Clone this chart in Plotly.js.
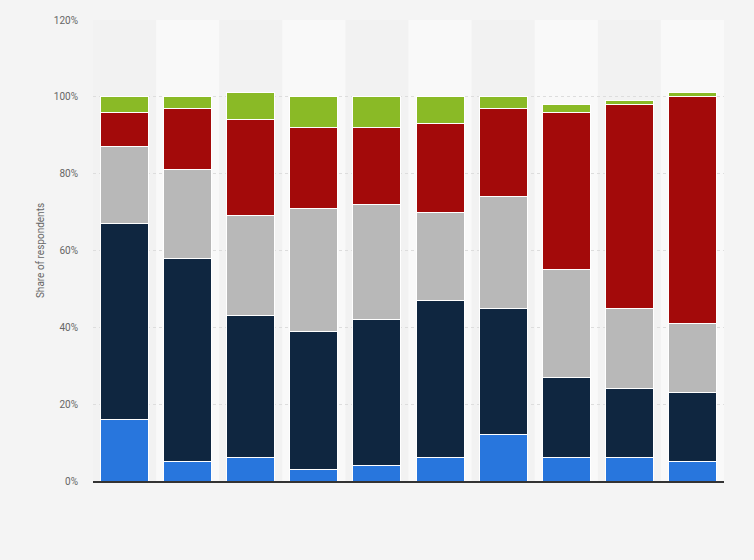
<!DOCTYPE html>
<html>
<head>
<meta charset="utf-8">
<script src="https://cdn.plot.ly/plotly-3.0.1.min.js"></script>
<style>html,body{margin:0;padding:0;background:#f4f4f4;}#chart{width:754px;height:560px;}</style>
</head>
<body>
<div id="chart"></div>
<script>
var categories = ['1','2','3','4','5','6','7','8','9','10'];
var seriesNames = ['Series 1','Series 2','Series 3','Series 4','Series 5'];
var series1 = [16, 5, 6, 3, 4, 6, 12, 6, 6, 5];
var series2 = [51, 53, 37, 36, 38, 41, 33, 21, 18, 18];
var series3 = [20, 23, 26, 32, 30, 23, 29, 28, 21, 18];
var series4 = [9, 16, 25, 21, 20, 23, 23, 41, 53, 59];
var series5 = [4, 3, 7, 8, 8, 7, 3, 2, 1, 1];
var colors = ['#2876dd', '#0f2640', '#b8b8b8', '#a30a0a', '#8aba26'];
var yTicks = [0, 20, 40, 60, 80, 100, 120];
var yTickLabels = ['0%', '20%', '40%', '60%', '80%', '100%', '120%'];

var allSeries = [series1, series2, series3, series4, series5];
var traces = allSeries.map(function(vals, i){
  return {
    type: 'bar',
    name: seriesNames[i],
    x: categories,
    y: vals,
    marker: {color: colors[i], line: {color: '#ffffff', width: 1}},
    hoverinfo: 'y+name'
  };
});

var shapes = [];
categories.forEach(function(c, i){
  if (i % 2 === 1) {
    shapes.push({type:'rect', xref:'x', yref:'paper', x0:i-0.5, x1:i+0.5, y0:0, y1:1,
      fillcolor:'#f9f9f9', line:{width:0}, layer:'below'});
  }
});

var layout = {
  width: 754, height: 560,
  paper_bgcolor: '#f4f4f4',
  plot_bgcolor: '#f2f2f2',
  barmode: 'stack',
  bargap: 0.24,
  showlegend: false,
  margin: {l: 93, r: 30, t: 20, b: 79},
  font: {family: 'Roboto, Arial, sans-serif', color: '#666666'},
  xaxis: {
    type: 'category',
    showticklabels: false,
    showgrid: false,
    zeroline: false,
    showline: true,
    linecolor: '#333333',
    linewidth: 1.5,
    ticks: ''
  },
  yaxis: {
    range: [0, 120],
    tickmode: 'array',
    tickvals: yTicks,
    ticktext: yTickLabels,
    showgrid: true,
    gridcolor: '#dddddd',
    griddash: 'dot',
    gridwidth: 1,
    zeroline: false,
    tickfont: {size: 10, color: '#666666'},
    ticklen: 0,
    ticklabelstandoff: 14,
    title: {text: 'Share of respondents', font: {size: 10, color: '#666666'}, standoff: 7}
  },
  shapes: shapes
};

Plotly.newPlot('chart', traces, layout, {displayModeBar: false, staticPlot: true});
</script>
</body>
</html>
